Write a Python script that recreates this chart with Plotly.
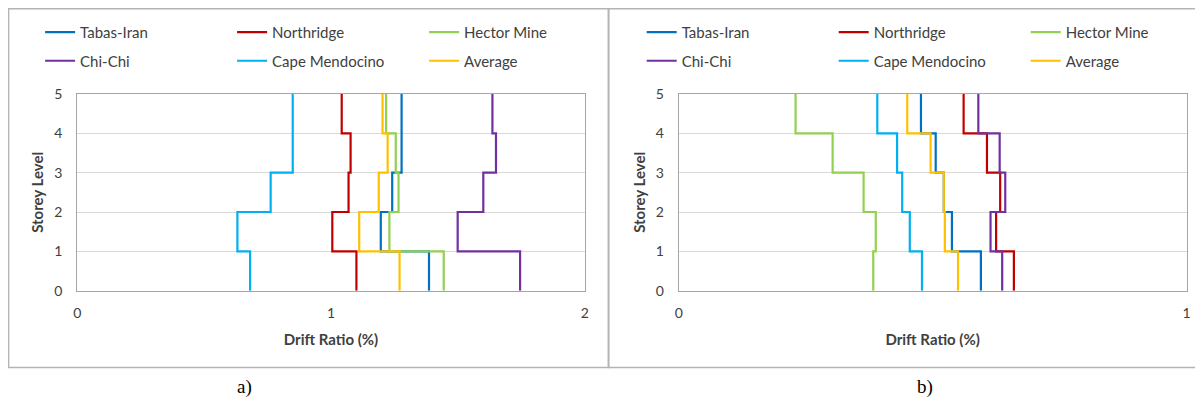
import plotly.graph_objects as go

# Storey levels (boundaries) and drift per storey (storey 1 = level 0-1 ... storey 5 = level 4-5)
levels = [0, 1, 2, 3, 4, 5]
names = ["Tabas-Iran", "Northridge", "Hector Mine", "Chi-Chi", "Cape Mendocino", "Average"]
colors = ["#0070C0", "#C00000", "#92D050", "#7030A0", "#00B0F0", "#FFC000"]

# Panel a) drift ratio (%) per storey 1..5
a_tabas = [1.386, 1.196, 1.241, 1.278, 1.278]
a_northridge = [1.100, 1.005, 1.069, 1.077, 1.042]
a_hector = [1.444, 1.230, 1.266, 1.255, 1.217]
a_chichi = [1.745, 1.499, 1.600, 1.650, 1.636]
a_cape = [0.681, 0.631, 0.762, 0.849, 0.849]
a_average = [1.270, 1.111, 1.188, 1.223, 1.203]

# Panel b) drift ratio (%) per storey 1..5
b_tabas = [0.595, 0.538, 0.522, 0.506, 0.477]
b_northridge = [0.660, 0.625, 0.633, 0.607, 0.561]
b_hector = [0.383, 0.388, 0.364, 0.303, 0.230]
b_chichi = [0.637, 0.614, 0.643, 0.632, 0.590]
b_cape = [0.479, 0.455, 0.440, 0.430, 0.391]
b_average = [0.550, 0.524, 0.522, 0.496, 0.450]

a_series = [a_tabas, a_northridge, a_hector, a_chichi, a_cape, a_average]
b_series = [b_tabas, b_northridge, b_hector, b_chichi, b_cape, b_average]

a_xticks = [0, 1, 2]
b_xticks = [0, 1]
y_ticks = [0, 1, 2, 3, 4, 5]

# The page body has an 8px margin: size the figure to the remaining window
OFF = 8
W, H = 1203 - OFF, 401 - OFF
FONT = "Lato"
TXT = "#404040"

fig = go.Figure()


def px_x(p):
    return (p - OFF) / W


def px_y(p):
    return 1 - (p - OFF) / H


legend_names = [["legend", "legend2"], ["legend3", "legend4"]]
for pi, (series, xa, ya) in enumerate([(a_series, "x", "y"), (b_series, "x2", "y2")]):
    for i, (nm, col, vals) in enumerate(zip(names, colors, series)):
        xs = list(vals) + [vals[-1]]
        fig.add_trace(go.Scatter(
            x=xs, y=levels, mode="lines", name=nm,
            line=dict(color=col, width=2.2, shape="vh"),
            xaxis=xa, yaxis=ya,
            legend=legend_names[pi][0 if i < 3 else 1],
        ))

ydom = [px_y(290.7), px_y(94.0)]
axis_common = dict(
    zeroline=False, showline=True, mirror=True,
    linecolor="#A6A6A6", linewidth=1.3, ticks="",
    tickfont=dict(family=FONT, size=14, color=TXT),
)
title_font = dict(family=FONT, size=15, color=TXT)
fig.update_layout(
    width=W, height=H,
    margin=dict(l=0, r=0, t=0, b=0, autoexpand=False),
    paper_bgcolor="white", plot_bgcolor="white",
    xaxis=dict(domain=[px_x(77.3), px_x(584.8)], range=[0, 2], tickvals=a_xticks,
               anchor="y", ticklabelstandoff=9, showgrid=False,
               title=dict(text="<b>Drift Ratio (%)</b>", font=title_font, standoff=14),
               **axis_common),
    yaxis=dict(domain=ydom, range=[0, 5], tickvals=y_ticks, anchor="x",
               showgrid=True, gridcolor="#D9D9D9", gridwidth=1, ticklabelstandoff=11,
               title=dict(text="<b>Storey Level</b>", font=title_font, standoff=6),
               **axis_common),
    xaxis2=dict(domain=[px_x(678.8), px_x(1186.5)], range=[0, 1], tickvals=b_xticks,
                anchor="y2", ticklabelstandoff=9, showgrid=False,
                title=dict(text="<b>Drift Ratio (%)</b>", font=title_font, standoff=14),
                **axis_common),
    yaxis2=dict(domain=ydom, range=[0, 5], tickvals=y_ticks, anchor="x2",
                showgrid=True, gridcolor="#D9D9D9", gridwidth=1, ticklabelstandoff=11,
                title=dict(text="<b>Storey Level</b>", font=title_font, standoff=6),
                **axis_common),
)

leg_common = dict(orientation="h", bgcolor="rgba(0,0,0,0)", borderwidth=0,
                  font=dict(family=FONT, size=15, color=TXT),
                  xanchor="left", yanchor="middle", entrywidth=147, entrywidthmode="pixels",
                  tracegroupgap=0, itemclick=False, itemdoubleclick=False)
fig.update_layout(
    legend=dict(x=px_x(40.1), y=px_y(32.3), **leg_common),
    legend2=dict(x=px_x(40.1), y=px_y(61.0), **leg_common),
    legend3=dict(x=px_x(641.7), y=px_y(32.3), **leg_common),
    legend4=dict(x=px_x(641.7), y=px_y(61.0), **leg_common),
)

# Panel frames
for x0, x1 in [(8.6, 608.3), (608.8, 1202.0)]:
    fig.add_shape(type="rect", xref="paper", yref="paper",
                  x0=px_x(x0), x1=px_x(x1), y0=px_y(367.5), y1=px_y(8.8),
                  line=dict(color="#B4B4B4", width=1.5), fillcolor="rgba(0,0,0,0)", layer="below")

for txt, xc in [("a)", 244), ("b)", 925)]:
    fig.add_annotation(text=txt, xref="paper", yref="paper", x=px_x(xc), y=px_y(387),
                       xanchor="center", yanchor="middle", showarrow=False,
                       font=dict(family="Liberation Serif", size=19, color="black"))

fig.write_html("out.html")
